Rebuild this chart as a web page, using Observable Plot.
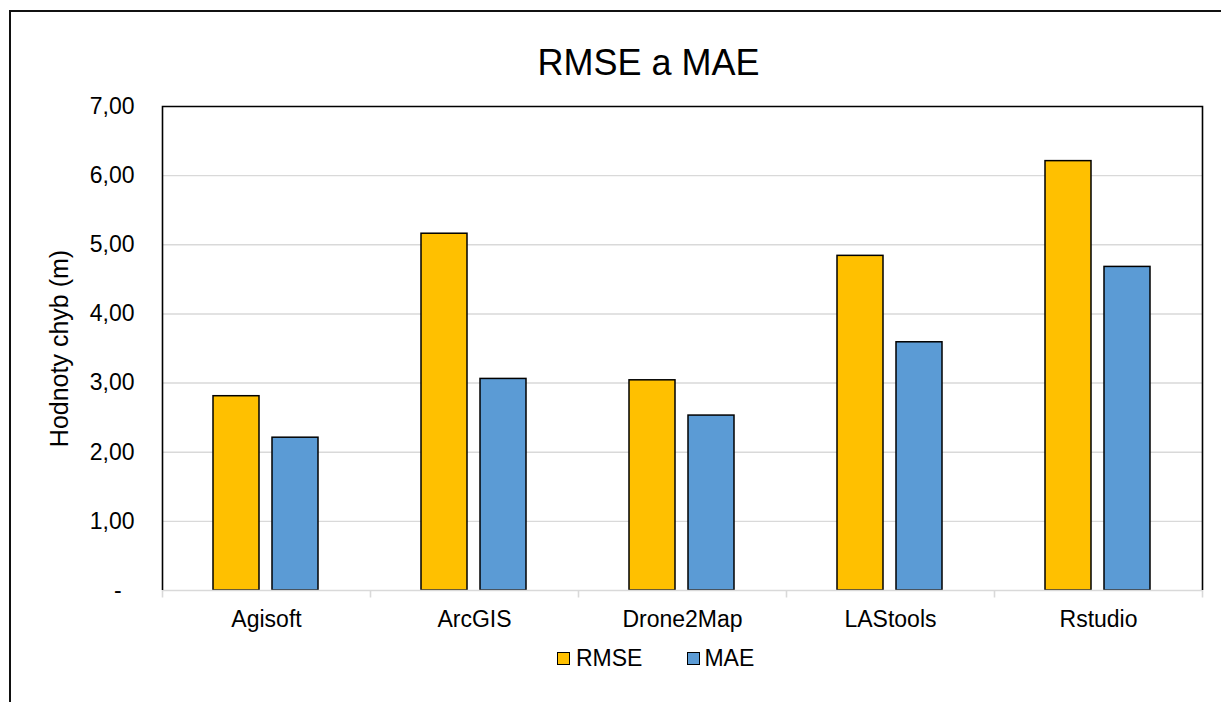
<!DOCTYPE html>
<html><head><meta charset="utf-8">
<script src="https://cdn.jsdelivr.net/npm/d3@7"></script>
<script src="https://cdn.jsdelivr.net/npm/@observablehq/plot@0.6"></script>
<style>
html,body{margin:0;padding:0;background:#fff;}
body{width:1221px;height:702px;overflow:hidden;position:relative;font-family:"Liberation Sans",Arial,sans-serif;color:#000;}
#chart{position:absolute;left:0;top:0;}
#border{position:absolute;left:9px;top:9.5px;width:1400px;height:900px;border:2px solid #111;box-sizing:border-box;pointer-events:none;}
#title{position:absolute;left:0;top:44.5px;width:1297px;text-align:center;font-size:36px;line-height:36px;}
#legend{position:absolute;left:557px;top:647px;display:flex;align-items:center;font-size:23px;line-height:23px;}
.sw{width:13px;height:13px;box-sizing:border-box;border:1.5px solid #000;margin-right:6px;}
.item{display:flex;align-items:center;}
</style></head>
<body>
<div id="chart"></div>
<div id="border"></div>
<div id="title"></div>
<div id="legend"></div>
<script>
const categories = ["Agisoft", "ArcGIS", "Drone2Map", "LAStools", "Rstudio"];
const seriesNames = ["RMSE", "MAE"];
const rmseValues = [2.81, 5.16, 3.04, 4.84, 6.21];
const maeValues = [2.21, 3.06, 2.53, 3.59, 4.68];
const seriesColors = ["#FFC000", "#5B9BD5"];
const yTicks = [0, 1, 2, 3, 4, 5, 6, 7];
const yLabel = "Hodnoty chyb (m)";
const chartTitle = "RMSE a MAE";

const data = categories.flatMap((c, i) => [
  {category: c, series: seriesNames[0], value: rmseValues[i]},
  {category: c, series: seriesNames[1], value: maeValues[i]}
]);

const fmt = d => d === 0 ? "-\u00a0\u00a0" : d.toFixed(2).replace(".", ",");

const plot = Plot.plot({
  width: 1221, height: 702,
  marginLeft: 162, marginRight: 19, marginTop: 106, marginBottom: 112,
  style: {fontFamily: '"Liberation Sans", Arial, sans-serif', background: "transparent", color: "#000"},
  fx: {domain: categories, padding: 0},
  x: {domain: seriesNames, paddingInner: 13 / 60, paddingOuter: 0.8417, axis: null},
  y: {domain: [0, 7]},
  color: {domain: seriesNames, range: seriesColors},
  marks: [
    Plot.ruleY(yTicks.filter(d => d > 0 && d < 7), {stroke: "#d9d9d9", strokeWidth: 1.4}),
    Plot.barY(data, {fx: "category", x: "series", y: "value", fill: "series", stroke: "#000", strokeWidth: 1.5}),
    Plot.ruleY([0], {stroke: "#d9d9d9", strokeWidth: 1.6}),
    Plot.axisY({ticks: yTicks, tickFormat: fmt, tickSize: 0, tickPadding: 28, fontSize: 23, label: null}),
    Plot.axisY({ticks: [], tickSize: 0, fontSize: 25,
      label: yLabel, labelAnchor: "center", labelOffset: 112, labelArrow: false}),
    Plot.axisFx({anchor: "bottom", tickSize: 0, tickPadding: 20, fontSize: 23, label: null})
  ]
});
document.getElementById("chart").appendChild(plot);

// plot-area border (left/top/right) and category boundary ticks, from Plot's own scales
const svg = d3.select(plot);
const fx = plot.scale("fx"), y = plot.scale("y");
const y0 = y.apply(0), y7 = y.apply(7);
const bounds = categories.map(c => fx.apply(c)).concat([fx.apply(categories[categories.length - 1]) + fx.bandwidth]);
const xa = bounds[0], xb = bounds[bounds.length - 1];
svg.append("path")
  .attr("d", `M${xa + 0.5},${y0}V${y7 + 0.5}H${xb + 0.5}V${y0}`)
  .attr("fill", "none").attr("stroke", "#000").attr("stroke-width", 1.6);
svg.append("g").selectAll("line").data(bounds).join("line")
  .attr("x1", d => d + 0.5).attr("x2", d => d + 0.5)
  .attr("y1", y0).attr("y2", y0 + 7.5)
  .attr("stroke", "#d9d9d9").attr("stroke-width", 1.6);

document.getElementById("title").textContent = chartTitle;
const legend = d3.select("#legend");
seriesNames.forEach((s, i) => {
  const item = legend.append("div").attr("class", "item").style("margin-right", i === 0 ? "45px" : "0");
  item.append("div").attr("class", "sw").style("background", seriesColors[i]).style("margin-right", i === 0 ? "6px" : "4px");
  item.append("span").text(s);
});
</script>
</body></html>
